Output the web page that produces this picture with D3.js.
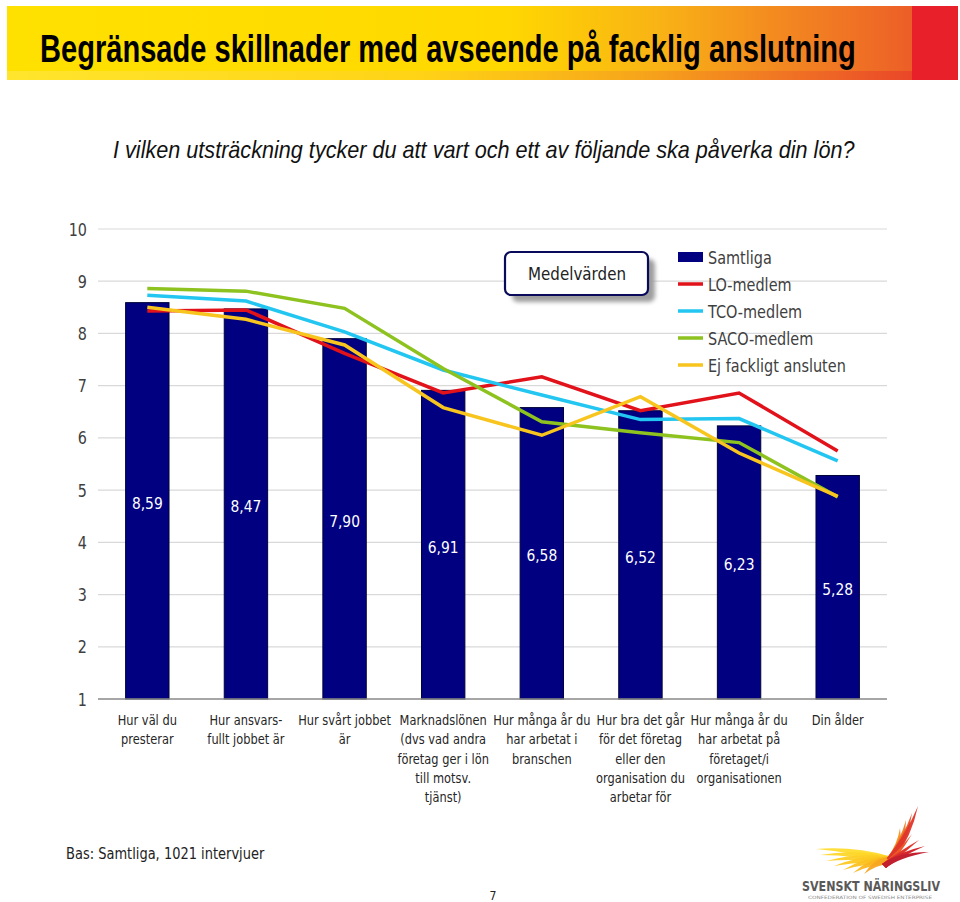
<!DOCTYPE html>
<html><head><meta charset="utf-8">
<script src="https://cdn.jsdelivr.net/npm/d3@7"></script>
<style>body{margin:0;background:#fff}svg{display:block}</style>
</head><body>
<svg id="c" width="960" height="902"></svg>
<script>
const categories = [
  ["Hur väl du","presterar"],
  ["Hur ansvars-","fullt jobbet är"],
  ["Hur svårt jobbet","är"],
  ["Marknadslönen","(dvs vad andra","företag ger i lön","till motsv.","tjänst)"],
  ["Hur många år du","har arbetat i","branschen"],
  ["Hur bra det går","för det företag","eller den","organisation du","arbetar för"],
  ["Hur många år du","har arbetat på","företaget/i","organisationen"],
  ["Din ålder"]
];
const samtliga = [8.59, 8.47, 7.90, 6.91, 6.58, 6.52, 6.23, 5.28];
const loMedlem = [8.43, 8.45, 7.62, 6.86, 7.17, 6.52, 6.86, 5.75];
const tcoMedlem = [8.73, 8.62, 8.03, 7.30, 6.82, 6.35, 6.37, 5.56];
const sacoMedlem = [8.86, 8.81, 8.48, 7.33, 6.31, 6.10, 5.91, 4.87];
const ejAnsluten = [8.50, 8.27, 7.78, 6.58, 6.05, 6.79, 5.71, 4.88];
const seriesNames = ["Samtliga","LO-medlem","TCO-medlem","SACO-medlem","Ej fackligt ansluten"];
const yTicks = [1,2,3,4,5,6,7,8,9,10];
const title = "Begränsade skillnader med avseende på facklig anslutning";
const subtitle = "I vilken utsträckning tycker du att vart och ett av följande ska påverka din lön?";
const footnote = "Bas: Samtliga, 1021 intervjuer";

const colors = {bar:"#000080", lo:"#E2121B", tco:"#22C6F0", saco:"#8DC21F", ej:"#F7C51E"};
const svg = d3.select("#c");
const defs = svg.append("defs");
const FONT = "'DejaVu Sans', Verdana, sans-serif";
const SX = 0.84;

function stext(g, x, y, str, size, opts={}) {
  return g.append("text")
    .attr("transform", `translate(${x},${y}) scale(${opts.sx||SX},1)`)
    .attr("text-anchor", opts.anchor||"middle")
    .attr("font-family", opts.family||FONT)
    .attr("font-size", size)
    .attr("fill", opts.fill||"#262626")
    .text(str);
}
// text fitted to a given width by horizontal scaling
function fitText(g, x, y, str, width, attrs) {
  const t = g.append("text").attr("x",0).attr("y",0).text(str);
  Object.entries(attrs).forEach(([k,v])=>t.attr(k,v));
  const w = t.node().getComputedTextLength() || width;
  t.attr("transform", `translate(${x},${y}) scale(${width/w},1)`);
  return t;
}

// ---- header band
const hg = defs.append("linearGradient").attr("id","hg").attr("x1","0").attr("x2","1");
[[0,"#FFE100"],[0.55,"#FFD800"],[0.72,"#F9B315"],[0.85,"#F38A20"],[0.95,"#EF6E25"],[1,"#EC5E27"]]
  .forEach(s=>hg.append("stop").attr("offset",s[0]).attr("stop-color",s[1]));
const hg2 = defs.append("linearGradient").attr("id","hg2").attr("x1","0").attr("x2","1");
[[0,"#FFE635"],[0.45,"#FFD21A"],[0.7,"#F6A21C"],[0.9,"#EE6426"],[1,"#E94229"]]
  .forEach(s=>hg2.append("stop").attr("offset",s[0]).attr("stop-color",s[1]));
svg.append("rect").attr("x",7).attr("y",6).attr("width",905).attr("height",74).attr("fill","url(#hg)");
svg.append("rect").attr("x",7).attr("y",71).attr("width",905).attr("height",9).attr("fill","url(#hg2)").attr("opacity",0.85);
svg.append("rect").attr("x",912).attr("y",6).attr("width",46).attr("height",74).attr("fill","#E8202A");
fitText(svg, 40, 62, title, 816, {
  "font-family":"'Liberation Sans Narrow','Liberation Sans',Arial,sans-serif",
  "font-weight":"bold","font-size":38,"fill":"#000"});
fitText(svg, 113, 158, subtitle, 742, {
  "font-family":"'Liberation Sans',Arial,sans-serif",
  "font-style":"italic","font-size":23,"fill":"#111"});

// ---- chart
const x = d3.scaleBand().domain(d3.range(categories.length)).range([98,887]).paddingInner(0.56).paddingOuter(0.28);
const y = d3.scaleLinear().domain([1,10]).range([699,229]);
const g = svg.append("g");

g.selectAll("line.grid").data(yTicks.filter(t=>t>1)).join("line")
  .attr("x1",98).attr("x2",887).attr("y1",d=>y(d)).attr("y2",d=>y(d))
  .attr("stroke","#d9d9d9").attr("stroke-width",1.2);
yTicks.forEach(t=>stext(g,87,y(t)+6.5,String(t),17.5,{anchor:"end",fill:"#404040",sx:0.82}));

g.selectAll("rect.bar").data(samtliga).join("rect")
  .attr("x",(d,i)=>x(i)).attr("width",x.bandwidth())
  .attr("y",d=>y(d)).attr("height",d=>y(1)-y(d))
  .attr("fill",colors.bar).attr("stroke","#00003a").attr("stroke-width",1);

g.append("line").attr("x1",98).attr("x2",887).attr("y1",y(1)).attr("y2",y(1))
  .attr("stroke","#888").attr("stroke-width",1.5);

samtliga.forEach((v,i)=>{
  stext(g, x(i)+x.bandwidth()/2, (y(v)+y(1))/2+8, d3.format(".2f")(v).replace(".",","), 16.5, {fill:"#fff"});
});

const cx = i => x(i)+x.bandwidth()/2;
const line = d3.line().x((d,i)=>cx(i)).y(d=>y(d));
[[loMedlem,colors.lo],[tcoMedlem,colors.tco],[sacoMedlem,colors.saco],[ejAnsluten,colors.ej]].forEach(([arr,c])=>{
  g.append("path").datum(arr).attr("d",line).attr("fill","none")
    .attr("stroke",c).attr("stroke-width",3.5).attr("stroke-linejoin","miter");
});

// category labels
categories.forEach((lines,i)=>{
  lines.forEach((l,k)=>stext(g, cx(i), 725+k*19.3, l, 13.6, {fill:"#262626"}));
});

// ---- Medelvärden box
const fl = defs.append("filter").attr("id","blur").attr("x","-10%").attr("y","-10%").attr("width","130%").attr("height","140%");
fl.append("feGaussianBlur").attr("stdDeviation",2);
svg.append("rect").attr("x",512).attr("y",259).attr("width",143).attr("height",43).attr("rx",6)
  .attr("fill","#9e9e9e").attr("filter","url(#blur)");
svg.append("rect").attr("x",505).attr("y",252).attr("width",143).attr("height",43).attr("rx",6)
  .attr("fill","#fff").attr("stroke","#0a0a5a").attr("stroke-width",2.2);
stext(svg,577,280,"Medelvärden",18,{fill:"#222"});

// ---- legend
const legItems = [
  {name:seriesNames[0],c:colors.bar,type:"rect"},
  {name:seriesNames[1],c:colors.lo},
  {name:seriesNames[2],c:colors.tco},
  {name:seriesNames[3],c:colors.saco},
  {name:seriesNames[4],c:colors.ej}
];
legItems.forEach((it,i)=>{
  const ly = 257 + i*27;
  if (it.type==="rect") svg.append("rect").attr("x",678).attr("y",ly-5).attr("width",25).attr("height",10).attr("fill",it.c);
  else svg.append("line").attr("x1",678).attr("x2",703).attr("y1",ly).attr("y2",ly).attr("stroke",it.c).attr("stroke-width",3.5);
  stext(svg,708,ly+6.5,it.name,17,{anchor:"start",fill:"#404040",sx:0.85});
});

// ---- footer
stext(svg,66,859,footnote,15.5,{anchor:"start",fill:"#222",sx:0.84});
stext(svg,493,900,"7",13,{fill:"#222"});

// ---- logo
const lg = svg.append("g");
const wingCols = d3.scaleLinear().domain([0,0.45,0.75,1]).range(["#FFDC2E","#FBBF1E","#F28A22","#E0352A"]);
const base = [890,860];
const tips = [
  [816,849],[820,855],[826,861],[834,866],[843,870],[853,873],[864,874],
  [900,828],[906,820],[912,813],[918,806]
];
tips.forEach((t,k)=>{
  const f = k/(tips.length-1);
  const mx = (t[0]+base[0])/2, my = (t[1]+base[1])/2;
  const dx = t[0]-base[0], dy = t[1]-base[1];
  const len = Math.hypot(dx,dy), nx = -dy/len, ny = dx/len;
  const w = 3.6;
  const p = d3.path();
  p.moveTo(base[0]+nx*w, base[1]+ny*w);
  p.quadraticCurveTo(mx+nx*(w+5), my+ny*(w+5), t[0], t[1]);
  p.quadraticCurveTo(mx+nx*2.5, my+ny*2.5, base[0]-nx*w, base[1]-ny*w);
  p.closePath();
  lg.append("path").attr("d",p.toString()).attr("fill",wingCols(f)).attr("opacity",0.95);
});
[[902,834],[909,840],[915,846],[919,852]].forEach((t,k)=>{
  const p = d3.path();
  p.moveTo(882,864); p.quadraticCurveTo(898,852,t[0]+10,t[1]); p.quadraticCurveTo(898,858,886,868); p.closePath();
  lg.append("path").attr("d",p.toString()).attr("fill",["#EC5A28","#E2372B","#D5262D","#C21F2F"][k]);
});
lg.append("text").attr("x",802).attr("y",891)
  .attr("font-family","'DejaVu Sans Condensed','DejaVu Sans',sans-serif").attr("font-weight","bold")
  .attr("font-size",14).attr("fill","#595959").attr("textLength",138).attr("lengthAdjust","spacingAndGlyphs")
  .text("SVENSKT NÄRINGSLIV");
lg.append("text").attr("x",808).attr("y",899)
  .attr("font-family","'DejaVu Sans',sans-serif").attr("font-size",4.5).attr("fill","#8a8a8a")
  .attr("textLength",124).attr("lengthAdjust","spacingAndGlyphs")
  .text("CONFEDERATION OF SWEDISH ENTERPRISE");
</script>
</body></html>
